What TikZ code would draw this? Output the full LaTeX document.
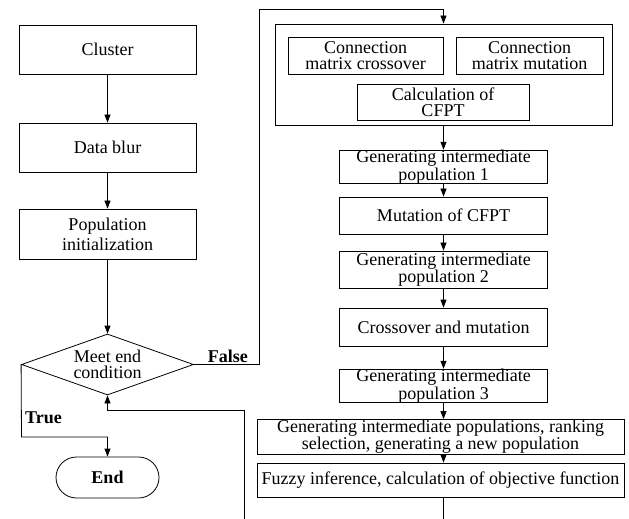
\documentclass[tikz,border=0pt]{standalone}
\usepackage{fontspec}
\setmainfont{Liberation Serif}
\usetikzlibrary{arrows.meta,shapes.geometric,shapes.misc}
\begin{document}
\begin{tikzpicture}[x=1bp,y=-1bp,
  ln/.style={line width=0.8bp},
  box/.style={draw,ln,inner sep=0pt,align=center,font=\fontsize{18bp}{15bp}\selectfont},
  arr/.style={ln,-{Triangle[length=8bp,width=6bp]}},
  lbl/.style={inner sep=0pt,font=\fontsize{18bp}{18bp}\selectfont\bfseries}]
\useasboundingbox (0,0) rectangle (629,519);
% left column
\node[box,minimum width=177bp,minimum height=49bp] (cluster) at (107.5,49.5) {Cluster};
\node[box,minimum width=177bp,minimum height=49bp] (blur) at (107.5,147.5) {Data blur};
\node[box,minimum width=177bp,minimum height=50bp,font=\fontsize{18bp}{20bp}\selectfont] (popinit) at (107.5,234) {Population\\initialization};
\node[draw,ln,diamond,inner sep=0pt,minimum width=172bp,minimum height=61bp] (cond) at (107.5,364.5) {};
\node[inner sep=0pt,align=center,font=\fontsize{18bp}{16bp}\selectfont] (condtxt) at (cond.center) {Meet end\\condition};
\node[draw,ln,rounded rectangle,inner sep=0pt,minimum width=103bp,minimum height=41bp,font=\fontsize{18bp}{18bp}\selectfont\bfseries] (endn) at (107.5,477.5) {End};
% right column
\node[box,minimum width=337bp,minimum height=101bp] (outer) at (443.5,74.5) {};
\node[box,minimum width=155bp,minimum height=37bp,font=\fontsize{18bp}{16bp}\selectfont] (cmc) at (365.5,55.5) {Connection\\matrix crossover};
\node[box,minimum width=147bp,minimum height=37bp,font=\fontsize{18bp}{16bp}\selectfont] (cmm) at (529.5,55.5) {Connection\\matrix mutation};
\node[box,minimum width=172bp,minimum height=36bp,font=\fontsize{18bp}{16bp}\selectfont] (calc) at (443,102) {Calculation of\\CFPT};
\node[box,minimum width=208bp,minimum height=30bp] (gen1) at (443.5,167) {Generating intermediate\\population 1};
\node[box,minimum width=208bp,minimum height=37bp] (mut) at (443.5,215.5) {Mutation of CFPT};
\node[box,minimum width=208bp,minimum height=37bp,font=\fontsize{18bp}{16bp}\selectfont] (gen2) at (443.5,269.5) {Generating intermediate\\population 2};
\node[box,minimum width=208bp,minimum height=38bp] (cross) at (443.5,327) {Crossover and mutation};
\node[box,minimum width=208bp,minimum height=32bp] (gen3) at (443.5,386) {Generating intermediate\\population 3};
\node[box,minimum width=367bp,minimum height=35bp,font=\fontsize{18bp}{15bp}\selectfont] (rank) at (440.5,437) {Generating intermediate populations, ranking\\selection, generating a new population};
\node[box,minimum width=367bp,minimum height=34bp] (fuzzy) at (440.5,480) {Fuzzy inference, calculation of objective function};
% coordinates
\coordinate (f1) at (259,364.5);
\coordinate (f2) at (259,9);
\coordinate (t1) at (21.5,437);
\coordinate (l0) at (244,519);
\coordinate (l1) at (244,410);
\coordinate (fend) at (443.5,519);
% connectors left
\draw[arr] (cluster) -- (blur);
\draw[arr] (blur) -- (popinit);
\draw[arr] (popinit) -- (cond);
\draw[arr] (cond.west) -- (t1) -| (endn.north);
\draw[arr] (cond.east) -- (f1) -- (f2) -| (outer.north);
\draw[arr] (l0) -- (l1) -| (cond.south);
\node[lbl,anchor=base east] (falselbl) at (248,362) {False};
\node[lbl,anchor=base west] (truelbl) at (25,423) {True};
% connectors right
\draw[arr] (outer) -- (gen1);
\draw[arr] (gen1) -- (mut);
\draw[arr] (mut) -- (gen2);
\draw[arr] (gen2) -- (cross);
\draw[arr] (cross) -- (gen3);
\draw[arr] (gen3.south) -- (gen3.south |- rank.north);
\draw[arr] (gen3.south |- rank.south) -- (gen3.south |- fuzzy.north);
\draw[ln] (gen3.south |- fuzzy.south) -- (fend);
\end{tikzpicture}
\end{document}
